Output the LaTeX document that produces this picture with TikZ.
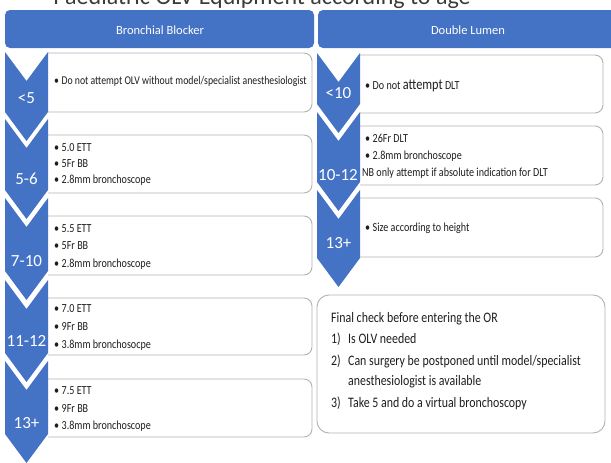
\documentclass[tikz,border=0pt]{standalone}
\usepackage{fontspec}
\setmainfont{Carlito}[FakeStretch=0.82]
\newfontfamily\labfont{Carlito}
\definecolor{sablue}{RGB}{68,114,196}
\definecolor{boxgray}{RGB}{178,178,178}
\definecolor{txtc}{RGB}{30,30,30}
\definecolor{titlec}{RGB}{60,60,60}
\newcommand\chv[3]{\fill[sablue] (#1,#2) -- (#1+21.5,#2+29) -- (#1+43,#2) -- (#1+43,#3) -- (#1+21.5,#3+29) -- (#1,#3) -- cycle;}
\newcommand\bul{\textbullet\kern2.5pt}
\begin{document}
\begin{tikzpicture}[x=1pt,y=-1pt,
  itembox/.style={draw=boxgray, line width=0.9pt, fill=white, rounded corners=8pt},
  header/.style={fill=sablue, rounded corners=5pt},
  hdtext/.style={text=white, font=\labfont\fontsize{12.5}{14}\selectfont, inner sep=0},
  lab/.style={text=white, font=\labfont\fontsize{17}{19}\selectfont, inner sep=0},
  itm/.style={anchor=base west, inner sep=0, text=txtc, font=\fontsize{12.3}{14}\selectfont},
  fin/.style={anchor=base west, inner sep=0, text=txtc, font=\fontsize{14.5}{17}\selectfont}
]
\useasboundingbox (0,0) rectangle (611,463);
\clip (0,0) rectangle (611,463);

% title (cut off at the top, as in the reference)
\node[anchor=base, text=titlec, font=\labfont\fontsize{24}{28}\selectfont, inner sep=0] (title) at (262,4.5) {Paediatric OLV Equipment according to age};

% headers
\fill[header] (5,10) rectangle (314,48);
\fill[header] (318,10) rectangle (625,48);
\node[hdtext] (hb) at (160,30) {Bronchial Blocker};
\node[hdtext] (hd) at (468,30) {Double Lumen};

% boxes
\begin{scope}
\clip (48,0) rectangle (316,463);
\draw[itembox] (30,53) rectangle (312,112);
\draw[itembox] (30,135) rectangle (312,193);
\draw[itembox] (30,216) rectangle (312,275);
\draw[itembox] (30,298) rectangle (312,355);
\draw[itembox] (30,379) rectangle (312,437);
\end{scope}
\begin{scope}
\clip (360,0) rectangle (611,290);
\draw[itembox] (340,55) rectangle (603,113);
\draw[itembox] (340,126) rectangle (603,185);
\draw[itembox] (340,198) rectangle (603,257);
\end{scope}
\draw[itembox, rounded corners=12pt] (317,295) rectangle (605,433);

% chevrons left
\chv{5}{52}{112}
\chv{5}{119}{190}
\chv{5}{198}{271}
\chv{5}{280}{353}
\chv{5}{361}{434}
% chevrons right
\chv{317}{53}{104}
\chv{317}{112}{182}
\chv{317}{190}{258}

% chevron labels
\node[lab] (l1) at (26.5,98) {<5};
\node[lab] (l2) at (26.5,179) {5-6};
\node[lab] (l3) at (26.5,261) {7-10};
\node[lab] (l4) at (26.5,341) {11-12};
\node[lab] (l5) at (26.5,423) {13+};
\node[lab] (r1) at (338.5,93) {<10};
\node[lab] (r2) at (338,175) {10-12};
\node[lab] (r3) at (338.5,243) {13+};

% left texts
\node[itm, font=\fontsize{11.9}{14}\selectfont] (a1) at (54,84) {\bul Do not attempt OLV without model/specialist anesthesiologist};
\node[itm] (b1) at (54,151) {\bul 5.0 ETT};
\node[itm] (b2) at (54,167) {\bul 5Fr BB};
\node[itm] (b3) at (54,183) {\bul 2.8mm bronchoscope};
\node[itm] (c1) at (54,232) {\bul 5.5 ETT};
\node[itm] (c2) at (54,249.5) {\bul 5Fr BB};
\node[itm] (c3) at (54,267) {\bul 2.8mm bronchoscope};
\node[itm] (d1) at (54,312) {\bul 7.0 ETT};
\node[itm] (d2) at (54,330) {\bul 9Fr BB};
\node[itm] (d3) at (54,348) {\bul 3.8mm bronchosocpe};
\node[itm] (e1) at (54,394) {\bul 7.5 ETT};
\node[itm] (e2) at (54,412) {\bul 9Fr BB};
\node[itm] (e3) at (54,429) {\bul 3.8mm bronchoscope};

% right texts
\node[itm] (f1) at (365,89) {\bul Do not {\fontsize{15}{17}\selectfont attempt} DLT};
\node[itm] (g1) at (365,142) {\bul 26Fr DLT};
\node[itm] (g2) at (365,159) {\bul 2.8mm bronchoscope};
\node[itm] (g3) at (362,176) {NB only attempt if absolute indication for DLT};
\node[itm] (h1) at (365,231) {\bul Size according to height};

% final check
\node[fin] (k0) at (331,322) {Final check before entering the OR};
\node[fin] (k1n) at (331,343) {1)};
\node[fin] (k1) at (348,343) {Is OLV needed};
\node[fin] (k2n) at (331,365) {2)};
\node[fin] (k2) at (348,365) {Can surgery be postponed until model/specialist};
\node[fin] (k2b) at (348,385) {anesthesiologist is available};
\node[fin] (k3n) at (331,407) {3)};
\node[fin] (k3) at (348,407) {Take 5 and do a virtual bronchoscopy};
\end{tikzpicture}
\end{document}
